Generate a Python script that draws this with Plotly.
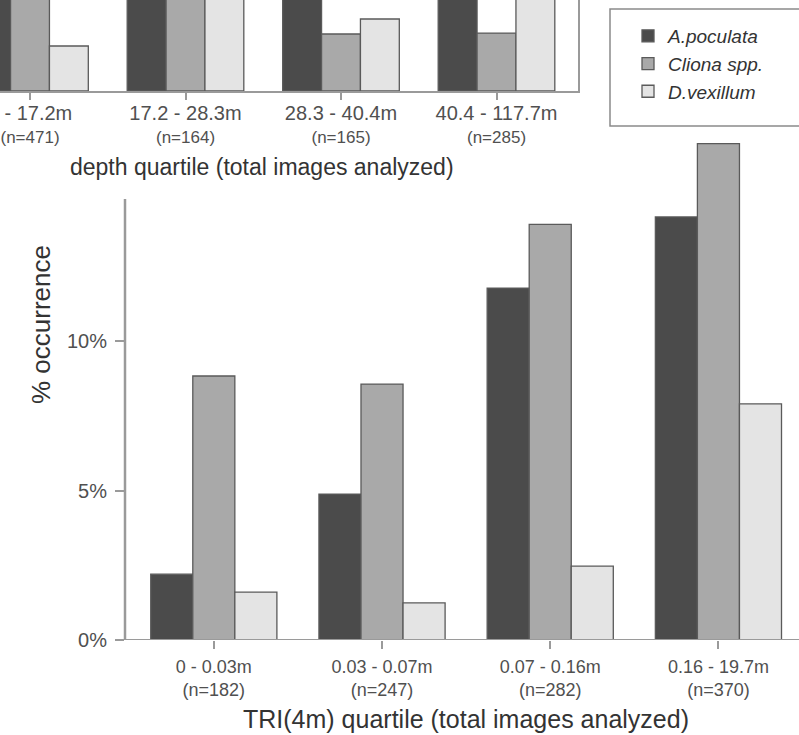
import plotly.graph_objects as go

# ---------------- data ----------------
species = ["A.poculata", "Cliona spp.", "D.vexillum"]
colors = ["#4b4b4b", "#a9a9a9", "#e4e4e4"]

# top panel (depth quartiles) - only the lower part of this panel is visible
depth_ranges = ["0 - 17.2m", "17.2 - 28.3m", "28.3 - 40.4m", "40.4 - 117.7m"]
depth_n = [471, 164, 165, 285]
depth_apoc = [9.0, 8.5, 7.5, 10.0]
depth_cliona = [5.5, 6.0, 1.9, 1.93]
depth_dvex = [1.5, 5.0, 2.4, 4.5]

# bottom panel (TRI(4m) quartiles)
tri_ranges = ["0 - 0.03m", "0.03 - 0.07m", "0.07 - 0.16m", "0.16 - 19.7m"]
tri_n = [182, 247, 282, 370]
tri_apoc = [2.2, 4.88, 11.77, 14.15]
tri_cliona = [8.83, 8.56, 13.9, 16.6]
tri_dvex = [1.6, 1.24, 2.47, 7.9]

y_ticks = [0, 5, 10]
y_ticktext = ["0%", "5%", "10%"]

# ---------------- figure ----------------
W, H = 799, 735
def px_x(p):
    return p / W
def px_y(p):
    return (H - p) / H

fig = go.Figure()
depth_vals = [depth_apoc, depth_cliona, depth_dvex]
tri_vals = [tri_apoc, tri_cliona, tri_dvex]
line_col = "#5a5a5a"
for i, sp in enumerate(species):
    fig.add_trace(go.Bar(
        x=depth_ranges, y=depth_vals[i], name=sp, legendgroup=sp, showlegend=False,
        marker=dict(color=colors[i], line=dict(color=line_col, width=1.3)),
        xaxis="x", yaxis="y"))
for i, sp in enumerate(species):
    fig.add_trace(go.Bar(
        x=tri_ranges, y=tri_vals[i], name=sp, legendgroup=sp, showlegend=True,
        marker=dict(color=colors[i], line=dict(color=line_col, width=1.3)),
        xaxis="x2", yaxis="y2"))

axis_col = "#9a9a9a"
tick_font_col = "#505050"
font_family = "Liberation Sans, Arial, sans-serif"

depth_ticktext = [f"<span style='font-size:20px'>{r}</span><br>(n={n})" for r, n in zip(depth_ranges, depth_n)]
tri_ticktext = [f"{r}<br>(n={n})" for r, n in zip(tri_ranges, tri_n)]

fig.update_layout(
    template="none",
    width=W, height=H,
    margin=dict(l=0, r=0, t=0, b=0, pad=0),
    paper_bgcolor="white", plot_bgcolor="white",
    barmode="group", bargap=0.25, bargroupgap=0,
    font=dict(family=font_family, color=tick_font_col),
    showlegend=True,
    legend=dict(x=px_x(628), y=px_y(17), xanchor="left", yanchor="top",
                bgcolor="rgba(0,0,0,0)", borderwidth=0,
                font=dict(size=19, style="italic", color="#333333"),
                traceorder="normal"),
    # top panel
    xaxis=dict(domain=[0, px_x(578)], anchor="y", type="category", automargin=False,
               range=[-30 / 155.5, (578 - 30) / 155.5],
               showline=True, linecolor=axis_col, linewidth=2,
               ticks="outside", ticklen=7, tickcolor=axis_col, tickwidth=1.5,
               tickvals=depth_ranges, ticktext=depth_ticktext,
               tickfont=dict(size=17, color=tick_font_col),
               showgrid=False, zeroline=False),
    yaxis=dict(domain=[px_y(91), 1], anchor="x", side="right", automargin=False,
               range=[0, 91 / 30.0],
               showline=True, linecolor=axis_col, linewidth=2,
               showticklabels=False, ticks="", showgrid=False, zeroline=False),
    # bottom panel
    xaxis2=dict(domain=[px_x(125), 1], anchor="y2", type="category", automargin=False,
                range=[-0.528, 3.479],
                showline=False,
                ticks="outside", ticklen=8, tickcolor=axis_col, tickwidth=1.5,
                tickvals=tri_ranges, ticktext=tri_ticktext,
                tickfont=dict(size=18, color=tick_font_col),
                ticklabelstandoff=2,
                showgrid=False, zeroline=False),
    yaxis2=dict(domain=[px_y(640), px_y(640 - 17 * 29.9)], anchor="x2", automargin=False,
                range=[0, 17],
                showline=False,
                ticks="outside", ticklen=9, tickcolor=axis_col, tickwidth=1.5,
                tickvals=y_ticks, ticktext=y_ticktext,
                tickfont=dict(size=20, color=tick_font_col),
                ticklabelstandoff=4,
                showgrid=False, zeroline=False),
)

# axis lines of bottom panel (R style: y-axis line spans tick range, partly hidden)
fig.add_shape(type="line", xref="x2 domain", yref="y2", x0=0, x1=0, y0=0, y1=14.75,
              line=dict(color=axis_col, width=2.5))
fig.add_shape(type="line", xref="paper", yref="y2", x0=px_x(116), x1=1, y0=0, y1=0,
              line=dict(color=axis_col, width=2))
# legend frame (extends past the right edge)
fig.add_shape(type="rect", xref="paper", yref="paper",
              x0=px_x(610), x1=1.2, y0=px_y(126), y1=px_y(9),
              line=dict(color="#8a8a8a", width=1.5), fillcolor="rgba(0,0,0,0)")

# axis titles
fig.add_annotation(text="depth quartile (total images analyzed)", xref="paper", yref="paper",
                   x=px_x(262), y=px_y(167), xanchor="center", yanchor="middle",
                   showarrow=False, font=dict(size=23, color="#333333"))
fig.add_annotation(text="TRI(4m) quartile (total images analyzed)", xref="paper", yref="paper",
                   x=px_x(466), y=px_y(719), xanchor="center", yanchor="middle",
                   showarrow=False, font=dict(size=25, color="#333333"))
fig.add_annotation(text="% occurrence", xref="paper", yref="paper",
                   x=px_x(41), y=px_y(325), xanchor="center", yanchor="middle",
                   textangle=-90, showarrow=False, font=dict(size=26, color="#333333"))

fig.write_html("out.html", config={"displayModeBar": False},
               post_script="document.body.style.margin='0';document.body.style.overflow='hidden';")
